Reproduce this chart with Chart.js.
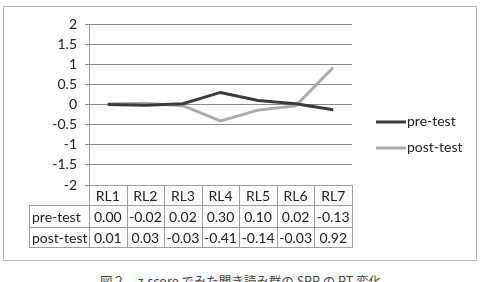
<!DOCTYPE html>
<html>
<head>
<meta charset="utf-8">
<script src="https://cdn.jsdelivr.net/npm/chart.js@4/dist/chart.umd.min.js"></script>
<style>
  body { margin: 0; background: #fff; width: 481px; height: 282px; position: relative; overflow: hidden; }
  #box { position: absolute; left: 3px; top: 6px; width: 472px; height: 253px; border: 1px solid #b8b8b8; }
  #grafico { position: absolute; left: 0; top: 0; }
  #caption { position: absolute; left: 0; width: 481px; top: 271px; text-align: center;
    font: 12.5px "Noto Sans CJK JP", sans-serif; color: #444; }
</style>
</head>
<body>
<div id="box"><canvas id="grafico" width="472" height="253"></canvas></div>
<div id="caption">図２　z-score でみた聞き読み群の SPR の RT 変化</div>
<script>
// DADOS
const categorias = ["RL1", "RL2", "RL3", "RL4", "RL5", "RL6", "RL7"]
const preTest = [0.00, -0.02, 0.02, 0.30, 0.10, 0.02, -0.13]
const postTest = [0.01, 0.03, -0.03, -0.41, -0.14, -0.03, 0.92]
const nomesSeries = ["pre-test", "post-test"]
const coresSeries = ["#3b3b3b", "#ababab"]

const fonte = "Lato, 'Liberation Sans', sans-serif"
Chart.defaults.font.family = fonte
Chart.defaults.color = "#222"

// tabela de dados + legenda desenhadas por baixo do grafico
const tabelaPlugin = {
    id: 'tabela',
    afterDraw(chart) {
        const ctx = chart.ctx
        const x = chart.scales.x
        const area = chart.chartArea
        const colW = x.width / categorias.length
        const labelLeft = 25
        const alturas = [20, 22, 20]
        const linhas = [null, preTest, postTest]
        ctx.save()
        ctx.strokeStyle = "#a0a0a0"
        ctx.lineWidth = 1
        ctx.font = "14px " + fonte
        ctx.fillStyle = "#222"
        ctx.textBaseline = "middle"
        let top = area.bottom
        linhas.forEach((serie, r) => {
            const h = alturas[r]
            const left = r === 0 ? x.left : labelLeft
            ctx.strokeRect(Math.round(left) + 0.5, Math.round(top) + 0.5, Math.round(x.right - left), h)
            if (r > 0) {
                ctx.textAlign = "left"
                ctx.fillText(nomesSeries[r - 1], labelLeft + 3, top + h / 2 + 1)
            }
            for (let i = 0; i < categorias.length; i++) {
                const cl = Math.round(x.left + i * colW) + 0.5
                ctx.beginPath()
                ctx.moveTo(cl, top)
                ctx.lineTo(cl, top + h)
                ctx.stroke()
                ctx.textAlign = "center"
                const txt = r === 0 ? categorias[i] : serie[i].toFixed(2)
                ctx.fillText(txt, x.getPixelForValue(i), top + h / 2 + 1)
            }
            top += h
        })

        // legenda
        const legX = 372
        const legY = [115, 141]
        ctx.font = "14px " + fonte
        ctx.textAlign = "left"
        nomesSeries.forEach((nome, k) => {
            ctx.strokeStyle = coresSeries[k]
            ctx.lineWidth = 3
            ctx.beginPath()
            ctx.moveTo(legX, legY[k])
            ctx.lineTo(legX + 30, legY[k])
            ctx.stroke()
            ctx.fillStyle = "#222"
            ctx.fillText(nome, legX + 31, legY[k] - 1)
        })
        ctx.restore()
    }
}

const config = {
    type: 'line',
    data: {
        labels: categorias,
        datasets: [
            { label: nomesSeries[0], data: preTest, borderColor: coresSeries[0], borderWidth: 3, pointRadius: 0, tension: 0 },
            { label: nomesSeries[1], data: postTest, borderColor: coresSeries[1], borderWidth: 3, pointRadius: 0, tension: 0 }
        ]
    },
    options: {
        responsive: false,
        animation: false,
        layout: { padding: { top: 17, right: 124, bottom: 75, left: 0 } },
        plugins: { legend: { display: false }, tooltip: { enabled: false } },
        scales: {
            x: {
                display: false,
                offset: true
            },
            y: {
                min: -2,
                max: 2,
                afterFit(scale) { scale.width = 85 },
                border: { display: true, color: "#a0a0a0" },
                grid: { color: "#8a8a8a", drawTicks: true, tickLength: 4 },
                ticks: {
                    stepSize: 0.5, padding: 8, font: { size: 14 }, color: "#222",
                    callback: (v) => String(v)
                }
            }
        }
    },
    plugins: [tabelaPlugin]
}

var grafico = new Chart(document.getElementById('grafico'), config)
</script>
</body>
</html>
